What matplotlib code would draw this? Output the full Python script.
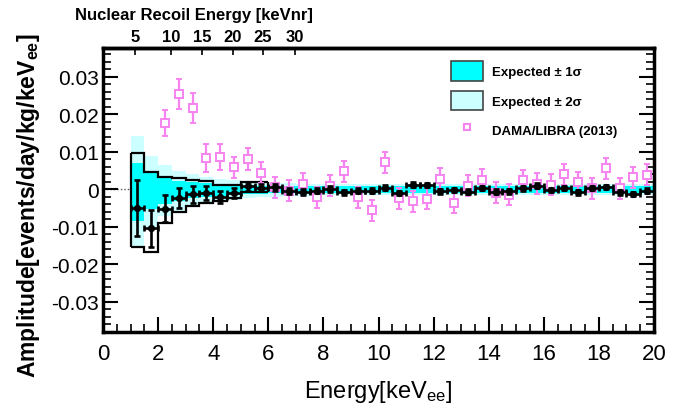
import matplotlib
matplotlib.use("Agg")
import matplotlib.pyplot as plt
import numpy as np
from matplotlib.patches import Patch
from matplotlib.lines import Line2D
from matplotlib.ticker import MultipleLocator, FuncFormatter

plt.rcParams['font.family'] = ['Liberation Sans', 'DejaVu Sans']
plt.rcParams['mathtext.fontset'] = 'custom'
plt.rcParams['mathtext.rm'] = 'Liberation Sans'
plt.rcParams['mathtext.default'] = 'regular'
plt.rcParams['axes.unicode_minus'] = False

# ---------------- data ----------------
bin_edges = [1.0, 1.5, 2.0, 2.5, 3.0, 3.5, 4.0, 4.5, 5.0, 5.5, 6.0, 6.5, 7.0, 7.5, 8.0,
             8.5, 9.0, 9.5, 10.0, 10.5, 11.0, 11.5, 12.0, 12.5, 13.0, 13.5, 14.0, 14.5,
             15.0, 15.5, 16.0, 16.5, 17.0, 17.5, 18.0, 18.5, 19.0, 19.5, 20.0]

# this experiment: amplitude and error
data_amp = [-0.0049, -0.0104, -0.0052, -0.0023, -0.0013, -0.0009, -0.0019, -0.0010,
            0.0008, 0.0005, 0.0006, -0.0003, -0.0007, -0.0003, 0.0001, -0.0008,
            -0.0003, -0.0003, 0.0005, -0.0010, 0.0013, 0.0012, -0.0005, -0.0001,
            -0.0006, 0.0004, -0.0006, -0.0005, 0.0003, 0.0010, -0.0001, 0.0004,
            -0.0008, 0.0004, 0.0006, -0.0008, -0.0012, -0.0003]
data_err = [0.0074, 0.0049, 0.0036, 0.0026, 0.0022, 0.0018, 0.0016, 0.0014,
            0.0011, 0.0010, 0.0009, 0.0008, 0.0008, 0.0007, 0.0007, 0.0007,
            0.0007, 0.0007, 0.0006, 0.0006, 0.0006, 0.0006, 0.0006, 0.0006,
            0.0006, 0.0006, 0.0006, 0.0006, 0.0006, 0.0006, 0.0006, 0.0006,
            0.0006, 0.0006, 0.0006, 0.0006, 0.0006, 0.0006]

# expected bands (per bin)
exp1_hi = [0.0070, 0.0043, 0.0030, 0.0023, 0.0019, 0.0016, 0.0013, 0.0011, 0.0010, 0.0009,
           0.0009, 0.0008, 0.0008, 0.0008, 0.0008, 0.0008, 0.0008, 0.0008, 0.0008, 0.0008,
           0.0008, 0.0008, 0.0008, 0.0008, 0.0008, 0.0008, 0.0008, 0.0008, 0.0008, 0.0008,
           0.0008, 0.0008, 0.0008, 0.0008, 0.0008, 0.0008, 0.0008, 0.0008]
exp1_lo = [-0.0083, -0.0052, -0.0038, -0.0030, -0.0024, -0.0020, -0.0017, -0.0014, -0.0012,
           -0.0011, -0.0010, -0.0009, -0.0009, -0.0009, -0.0009, -0.0009, -0.0009, -0.0009,
           -0.0009, -0.0009, -0.0009, -0.0009, -0.0009, -0.0009, -0.0009, -0.0009, -0.0009,
           -0.0009, -0.0009, -0.0009, -0.0009, -0.0009, -0.0009, -0.0009, -0.0009, -0.0009,
           -0.0009, -0.0009]
exp2_hi = [0.0143, 0.0090, 0.0065, 0.0050, 0.0040, 0.0033, 0.0028, 0.0024, 0.0021, 0.0019,
           0.0017, 0.0016, 0.0015, 0.0015, 0.0015, 0.0014, 0.0014, 0.0014, 0.0014, 0.0014,
           0.0014, 0.0014, 0.0014, 0.0014, 0.0014, 0.0014, 0.0014, 0.0014, 0.0014, 0.0014,
           0.0014, 0.0014, 0.0014, 0.0014, 0.0014, 0.0014, 0.0014, 0.0014]
exp2_lo = [-0.0154, -0.0100, -0.0072, -0.0057, -0.0046, -0.0038, -0.0032, -0.0028, -0.0024,
           -0.0021, -0.0019, -0.0018, -0.0017, -0.0016, -0.0016, -0.0015, -0.0015, -0.0015,
           -0.0015, -0.0015, -0.0015, -0.0015, -0.0015, -0.0015, -0.0015, -0.0015, -0.0015,
           -0.0015, -0.0015, -0.0015, -0.0015, -0.0015, -0.0015, -0.0015, -0.0015, -0.0015,
           -0.0015, -0.0015]

# limit outlines (1-6 keV)
lim_edges = [1.0, 1.5, 2.0, 2.5, 3.0, 3.5, 4.0, 4.5, 5.0, 5.5, 6.0]
lim_upper = [0.0097, 0.0046, 0.0034, 0.0030, 0.0026, 0.0022, 0.0012, 0.0012, 0.0019, 0.0019]
lim_lower = [-0.0154, -0.0166, -0.0089, -0.0061, -0.0043, -0.0036, -0.0031, -0.0024, -0.0008, -0.0008]

# DAMA/LIBRA (2013)
dama_e = [2.25, 2.75, 3.25, 3.75, 4.25, 4.75, 5.25, 5.75, 6.25, 6.75, 7.25, 7.75, 8.25,
          8.75, 9.25, 9.75, 10.25, 10.75, 11.25, 11.75, 12.25, 12.75, 13.25, 13.75,
          14.25, 14.75, 15.25, 15.75, 16.25, 16.75, 17.25, 17.75, 18.25, 18.75, 19.25, 19.75]
dama_amp = [0.0177, 0.0254, 0.0217, 0.0084, 0.0086, 0.0059, 0.0081, 0.0045, 0.0006,
            -0.0003, 0.0015, -0.0021, 0.0010, 0.0049, -0.0021, -0.0056, 0.0073, -0.0024,
            -0.0032, -0.0025, 0.0028, -0.0036, 0.0010, 0.0026, -0.0009, -0.0014, 0.0024,
            0.0015, 0.0012, 0.0041, 0.0019, 0.0003, 0.0057, 0.0003, 0.0032, 0.0039]
dama_err = [0.0035, 0.0040, 0.0041, 0.0037, 0.0034, 0.0028, 0.0029, 0.0028, 0.0028,
            0.0028, 0.0028, 0.0028, 0.0028, 0.0028, 0.0028, 0.0028, 0.0028, 0.0028,
            0.0028, 0.0028, 0.0028, 0.0028, 0.0028, 0.0028, 0.0028, 0.0028, 0.0028,
            0.0028, 0.0028, 0.0028, 0.0028, 0.0028, 0.0028, 0.0028, 0.0028, 0.0028]

# top axis: nuclear recoil energy ticks (positions in keVee)
nr_labels = ['5', '10', '15', '20', '25', '30']
nr_pos_ee = [1.16, 2.47, 3.59, 4.72, 5.81, 6.97]

# ---------------- plot ----------------
fig = plt.figure(figsize=(6.94, 4.10), dpi=100)
ax = fig.add_axes([0.1484, 0.1878, 0.7940, 0.6927])

edges = np.array(bin_edges)
centers = 0.5 * (edges[:-1] + edges[1:])
halfw = 0.5 * np.diff(edges)

ax.axhline(0, color='#555555', lw=1, ls=(0, (1, 1.5)), zorder=0)

ax.stairs(exp2_hi, edges, baseline=exp2_lo, fill=True, color='#ccffff', lw=0, zorder=1)
ax.stairs(exp1_hi, edges, baseline=exp1_lo, fill=True, color='#00ffff', lw=0, zorder=2)

ax.stairs(lim_upper, lim_edges, baseline=None, color='black', lw=1.6, zorder=3)
ax.stairs(lim_lower, lim_edges, baseline=None, color='black', lw=1.6, zorder=3)
ax.vlines([lim_edges[0], lim_edges[-1]], [lim_lower[0], lim_lower[-1]],
          [lim_upper[0], lim_upper[-1]], color='black', lw=1.6, zorder=3)

dama_col = '#f683f0'
ax.errorbar(dama_e, dama_amp, yerr=dama_err, fmt='s', ms=5.5, mfc='white', mec=dama_col,
            mew=1.4, ecolor=dama_col, elinewidth=1.6, capsize=2, capthick=1.6, zorder=4)

ax.errorbar(centers, data_amp, yerr=data_err, xerr=halfw, fmt='o', ms=4.2, color='black',
            elinewidth=1.9, capsize=2, capthick=1.9, zorder=5)

ax.set_xlim(0, 20)
ax.set_ylim(-0.038, 0.0377)
ax.xaxis.set_major_locator(MultipleLocator(2))
ax.xaxis.set_minor_locator(MultipleLocator(0.5))
ax.yaxis.set_major_locator(MultipleLocator(0.01))
ax.yaxis.set_minor_locator(MultipleLocator(0.002))
ax.yaxis.set_major_formatter(FuncFormatter(lambda v, p: '0' if abs(v) < 1e-9 else '%g' % v))
ax.tick_params(axis='both', which='major', direction='in', length=11, width=1.5)
ax.tick_params(axis='both', which='minor', direction='in', length=6, width=1.2)
ax.tick_params(axis='y', which='both', right=True, left=True)
ax.tick_params(axis='x', which='both', top=False, bottom=True)
ax.tick_params(axis='x', labelsize=16, pad=8)
ax.tick_params(axis='y', labelsize=15, pad=3)
for s in ax.spines.values():
    s.set_linewidth(2.5)

ax.set_xlabel(r'Energy[keV$_{ee}$]', fontsize=17, labelpad=10)
ax.set_ylabel(r'Amplitude[events/day/kg/keV$_{ee}$]', fontsize=16.5, fontweight='bold')
ax.yaxis.set_label_coords(-0.11, 0.45)

# top axis
top = ax.secondary_xaxis('top')
top.set_xticks(nr_pos_ee)
top.set_xticklabels(nr_labels, fontweight='bold', fontsize=12)
top.tick_params(direction='in', length=5, width=1.2, pad=3)
top.spines['top'].set_linewidth(2.5)
fig.text(0.108, 0.963, 'Nuclear Recoil Energy [keVnr]', fontsize=12, fontweight='bold',
         ha='left', va='center')

handles = [Patch(facecolor='#00ffff', edgecolor='#444444', lw=1.2),
           Patch(facecolor='#ccffff', edgecolor='#444444', lw=1.2),
           Line2D([], [], ls='none', marker='s', ms=5, mfc='white', mec=dama_col, mew=1.5)]
labels = ['Expected \u00b1 1\u03c3', 'Expected \u00b1 2\u03c3', 'DAMA/LIBRA (2013)']
leg = ax.legend(handles, labels, loc='upper left', bbox_to_anchor=(0.61, 0.995),
                frameon=False, prop={'weight': 'bold', 'size': 9.5},
                handlelength=2.4, handleheight=1.9, labelspacing=0.75, handletextpad=0.7)

fig.savefig('out.png', dpi=100)
